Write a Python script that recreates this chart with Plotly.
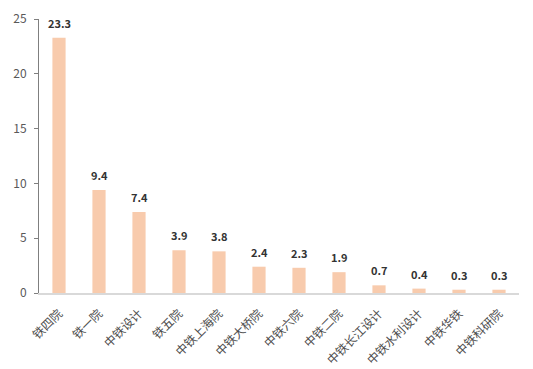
import plotly.graph_objects as go

categories = ["铁四院", "铁一院", "中铁设计", "铁五院", "中铁上海院", "中铁大桥院",
              "中铁六院", "中铁二院", "中铁长江设计", "中铁水利设计", "中铁华铁", "中铁科研院"]
values = [23.3, 9.4, 7.4, 3.9, 3.8, 2.4, 2.3, 1.9, 0.7, 0.4, 0.3, 0.3]
y_ticks = [0, 5, 10, 15, 20, 25]

font_cjk = "Noto Sans CJK SC, Noto Sans, sans-serif"

fig = go.Figure()
fig.add_trace(go.Bar(
    x=categories, y=values,
    marker=dict(color="#F8CBAD", line=dict(width=0)),
    width=0.33,
    hoverinfo="x+y",
))

for c, v in zip(categories, values):
    fig.add_annotation(x=c, y=v, text=f"<b>{v:.1f}</b>", showarrow=False,
                       yanchor="bottom", yshift=5,
                       font=dict(family=font_cjk, size=11, color="#333333"))

fig.update_layout(
    width=533, height=369,
    margin=dict(l=39, r=14, t=19, b=76),
    paper_bgcolor="white", plot_bgcolor="white",
    showlegend=False,
    font=dict(family=font_cjk, size=12, color="#595959"),
    xaxis=dict(
        automargin=False,
        tickangle=-45,
        showgrid=False,
        showline=True, linecolor="#D9D9D9", linewidth=1.5,
        ticks="",
        ticklabelstandoff=7,
        tickfont=dict(family=font_cjk, size=12, color="#4D4D4D"),
    ),
    yaxis=dict(
        automargin=False,
        range=[0, 25],
        tickvals=y_ticks,
        showgrid=False,
        zeroline=False,
        showline=True, linecolor="#7F7F7F", linewidth=1,
        ticks="outside", ticklen=4, tickcolor="#7F7F7F",
        ticklabelstandoff=5,
        tickfont=dict(family=font_cjk, size=12, color="#595959"),
    ),
)

fig.write_html("out.html")
